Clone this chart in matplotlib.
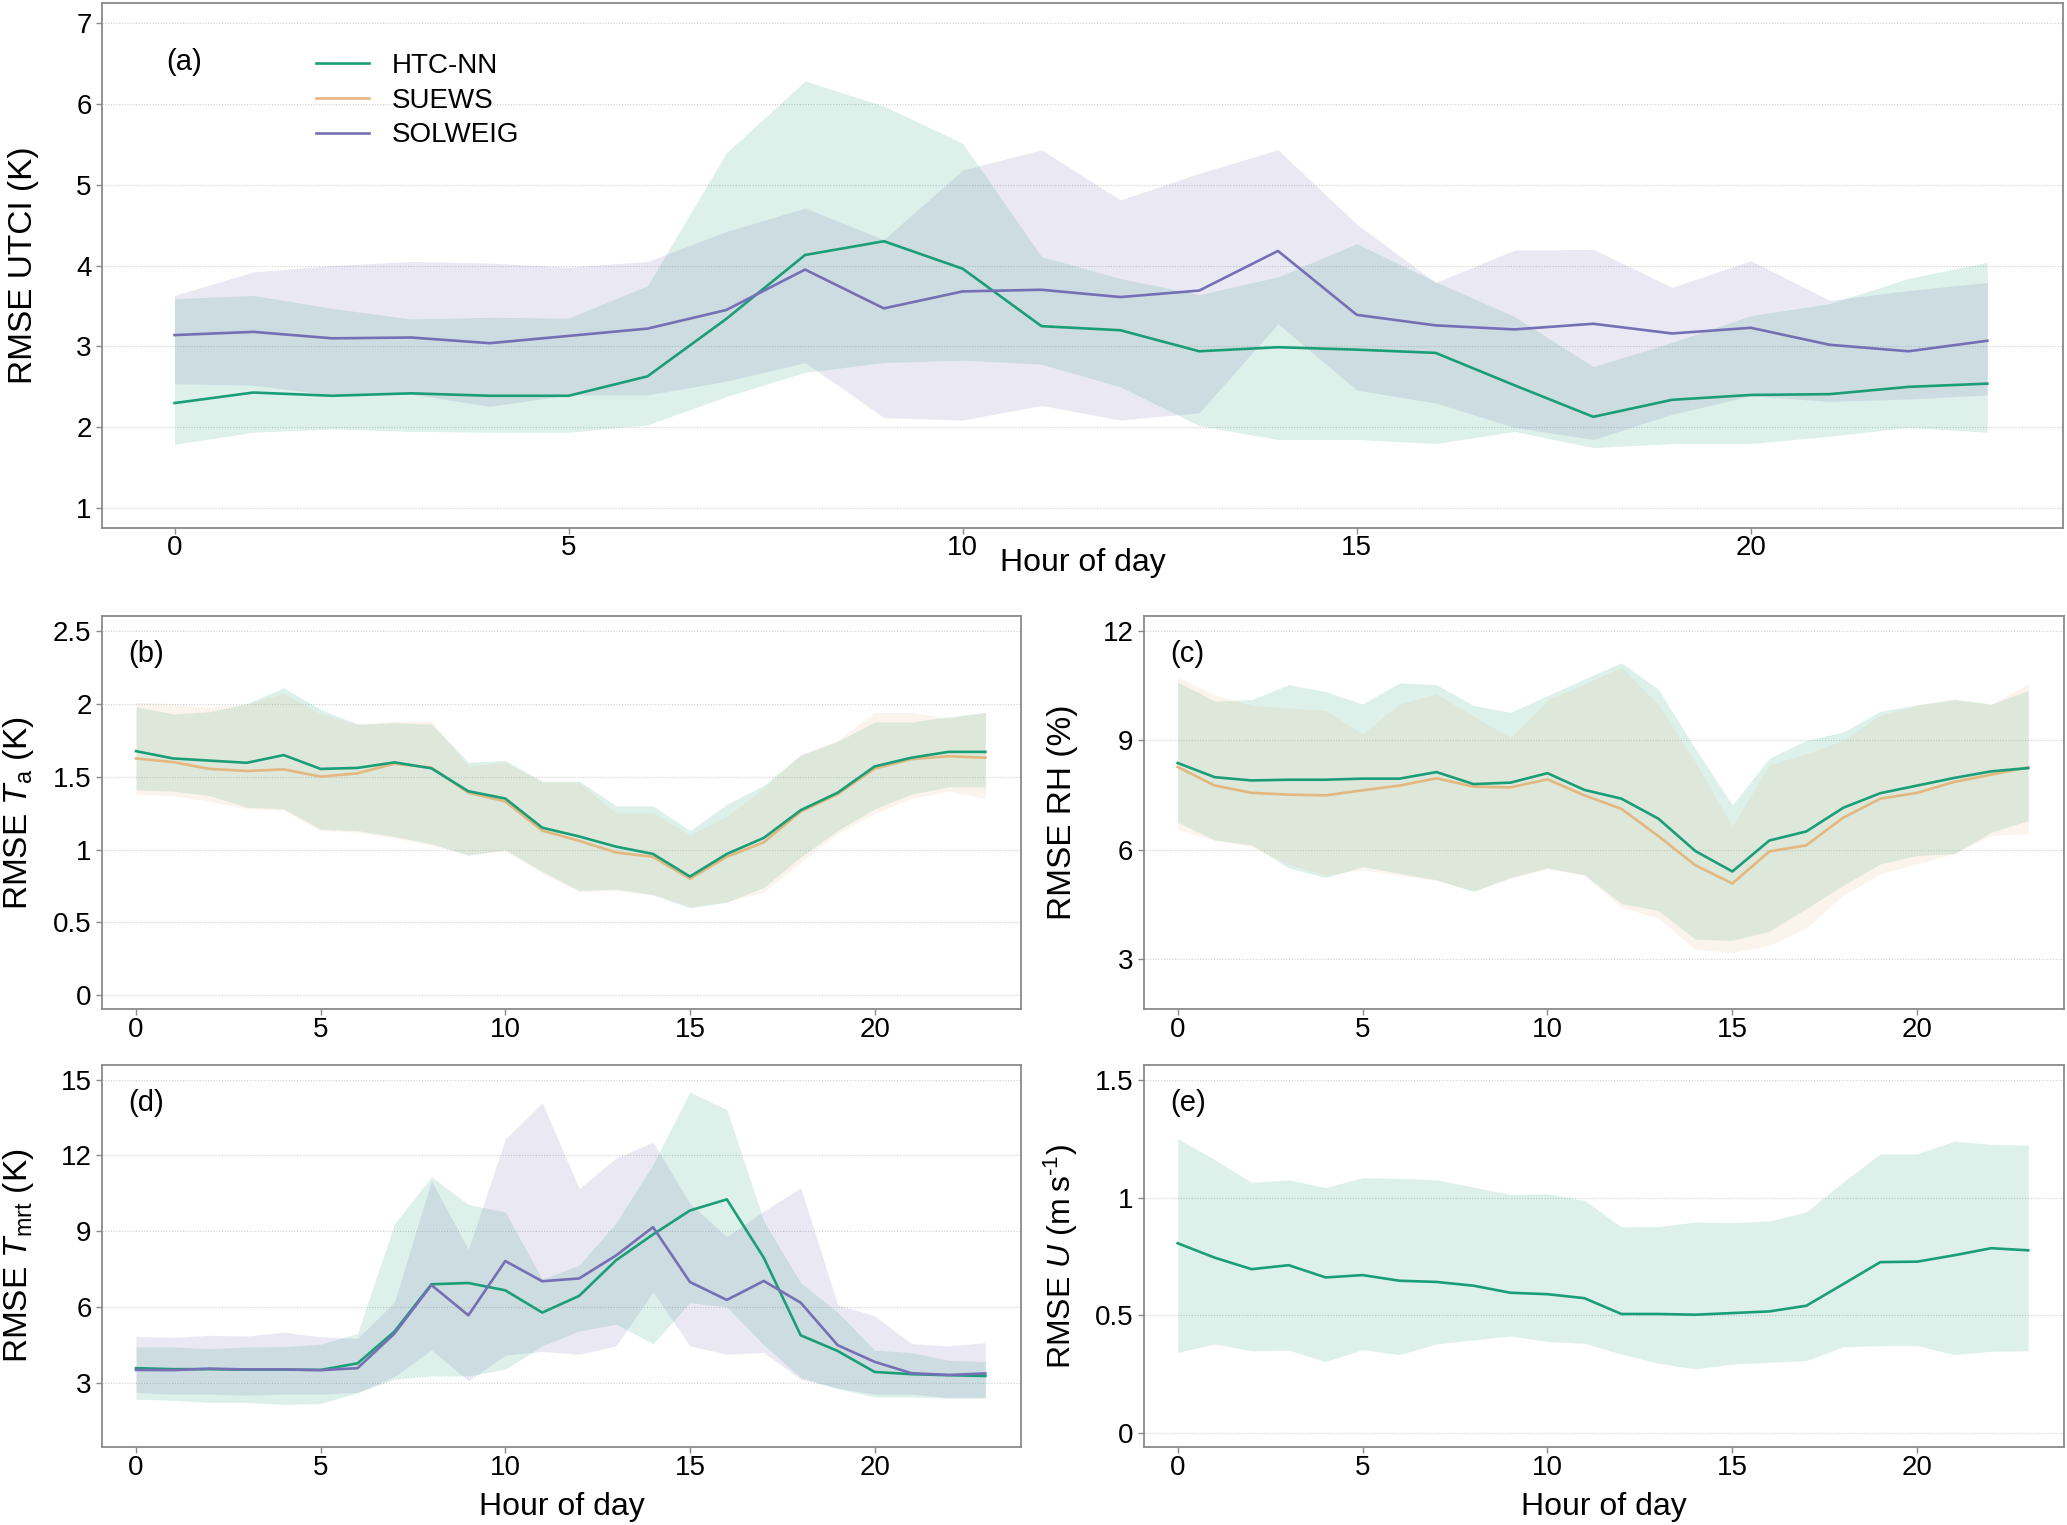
import matplotlib
matplotlib.use('Agg')
import matplotlib.pyplot as plt
from matplotlib.lines import Line2D
from matplotlib.ticker import FuncFormatter
from matplotlib import font_manager

# ---------------- data ----------------
hours = list(range(24))

utci_htc_mean = [2.30, 2.43, 2.39, 2.42, 2.39, 2.39, 2.63, 3.34, 4.13, 4.30, 3.96, 3.25, 3.20, 2.94, 2.99, 2.96, 2.92, 2.52, 2.13, 2.34, 2.40, 2.41, 2.50, 2.54]
utci_htc_hi = [3.59, 3.63, 3.47, 3.34, 3.36, 3.35, 3.75, 5.39, 6.28, 5.97, 5.51, 4.11, 3.84, 3.64, 3.86, 4.27, 3.80, 3.37, 2.75, 3.05, 3.38, 3.53, 3.84, 4.04]
utci_htc_lo = [1.79, 1.94, 1.98, 1.95, 1.94, 1.94, 2.03, 2.38, 2.68, 2.80, 2.83, 2.78, 2.50, 2.02, 1.85, 1.85, 1.80, 1.95, 1.75, 1.80, 1.80, 1.89, 2.00, 1.94]
utci_sol_mean = [3.14, 3.18, 3.10, 3.11, 3.04, 3.13, 3.22, 3.45, 3.95, 3.47, 3.68, 3.70, 3.61, 3.69, 4.18, 3.39, 3.26, 3.21, 3.28, 3.16, 3.23, 3.02, 2.94, 3.07]
utci_sol_hi = [3.63, 3.92, 4.00, 4.05, 4.03, 3.98, 4.05, 4.42, 4.71, 4.32, 5.18, 5.43, 4.81, 5.14, 5.43, 4.51, 3.79, 4.19, 4.20, 3.73, 4.06, 3.57, 3.69, 3.79]
utci_sol_lo = [2.54, 2.52, 2.40, 2.41, 2.26, 2.40, 2.40, 2.57, 2.80, 2.12, 2.09, 2.27, 2.09, 2.18, 3.28, 2.46, 2.30, 2.00, 1.85, 2.16, 2.39, 2.32, 2.35, 2.40]

ta_htc_mean = [1.675, 1.625, 1.61, 1.595, 1.648, 1.553, 1.56, 1.598, 1.557, 1.40, 1.35, 1.15, 1.09, 1.02, 0.97, 0.815, 0.97, 1.08, 1.27, 1.39, 1.57, 1.63, 1.67, 1.67]
ta_htc_hi = [1.98, 1.93, 1.945, 2.00, 2.11, 1.96, 1.86, 1.87, 1.86, 1.60, 1.61, 1.47, 1.47, 1.30, 1.30, 1.13, 1.31, 1.44, 1.65, 1.74, 1.875, 1.875, 1.91, 1.94]
ta_htc_lo = [1.41, 1.40, 1.37, 1.29, 1.28, 1.14, 1.13, 1.09, 1.04, 0.96, 1.00, 0.85, 0.72, 0.73, 0.69, 0.60, 0.64, 0.74, 0.95, 1.13, 1.28, 1.38, 1.43, 1.43]
ta_suews_mean = [1.625, 1.60, 1.553, 1.539, 1.55, 1.50, 1.523, 1.589, 1.562, 1.39, 1.33, 1.13, 1.06, 0.98, 0.95, 0.80, 0.95, 1.05, 1.26, 1.38, 1.555, 1.62, 1.64, 1.63]
ta_suews_hi = [2.01, 2.00, 1.975, 2.00, 2.07, 1.93, 1.86, 1.88, 1.88, 1.57, 1.60, 1.46, 1.46, 1.25, 1.25, 1.10, 1.23, 1.42, 1.65, 1.75, 1.94, 1.94, 1.90, 1.94]
ta_suews_lo = [1.38, 1.37, 1.33, 1.28, 1.27, 1.13, 1.12, 1.08, 1.03, 0.97, 0.99, 0.84, 0.71, 0.72, 0.69, 0.61, 0.64, 0.71, 0.91, 1.11, 1.25, 1.35, 1.40, 1.35]

rh_htc_mean = [8.38, 7.99, 7.90, 7.92, 7.92, 7.95, 7.95, 8.13, 7.80, 7.84, 8.10, 7.64, 7.40, 6.85, 5.96, 5.40, 6.25, 6.50, 7.15, 7.55, 7.76, 7.97, 8.15, 8.24]
rh_htc_hi = [10.60, 10.08, 10.12, 10.53, 10.34, 10.00, 10.58, 10.53, 9.96, 9.77, 10.23, 10.69, 11.13, 10.40, 8.77, 7.23, 8.51, 9.00, 9.23, 9.80, 9.98, 10.12, 10.00, 10.37]
rh_htc_lo = [6.75, 6.27, 6.13, 5.50, 5.23, 5.53, 5.35, 5.17, 4.85, 5.24, 5.50, 5.31, 4.52, 4.33, 3.54, 3.51, 3.76, 4.38, 5.02, 5.61, 5.84, 5.89, 6.48, 6.80]
rh_suews_mean = [8.27, 7.76, 7.56, 7.51, 7.49, 7.63, 7.76, 7.96, 7.73, 7.71, 7.93, 7.49, 7.12, 6.37, 5.57, 5.07, 5.95, 6.12, 6.88, 7.40, 7.56, 7.86, 8.06, 8.26]
rh_suews_hi = [10.74, 10.25, 9.96, 9.89, 9.82, 9.18, 10.00, 10.28, 9.66, 9.08, 10.10, 10.55, 11.01, 9.98, 8.40, 6.64, 8.33, 8.63, 9.00, 9.69, 9.96, 10.14, 9.98, 10.55]
rh_suews_lo = [6.55, 6.25, 6.08, 5.60, 5.30, 5.45, 5.30, 5.15, 4.88, 5.20, 5.48, 5.29, 4.42, 4.12, 3.26, 3.17, 3.37, 3.85, 4.74, 5.34, 5.61, 5.89, 6.39, 6.44]

tmrt_htc_mean = [3.58, 3.54, 3.54, 3.52, 3.52, 3.51, 3.77, 5.03, 6.90, 6.95, 6.66, 5.78, 6.44, 7.85, 8.87, 9.82, 10.26, 7.95, 4.88, 4.26, 3.43, 3.34, 3.30, 3.27]
tmrt_htc_hi = [4.42, 4.42, 4.35, 4.42, 4.43, 4.53, 4.95, 9.30, 11.15, 10.06, 9.76, 7.10, 7.66, 9.33, 11.64, 14.51, 13.81, 9.40, 6.96, 5.80, 4.29, 4.20, 3.89, 3.84]
tmrt_htc_lo = [2.35, 2.31, 2.22, 2.22, 2.15, 2.18, 2.61, 3.14, 3.27, 3.27, 3.54, 4.46, 5.05, 5.32, 4.55, 6.17, 6.00, 4.50, 3.21, 2.77, 2.44, 2.44, 2.39, 2.39]
tmrt_sol_mean = [3.51, 3.50, 3.56, 3.53, 3.53, 3.50, 3.58, 4.95, 6.87, 5.67, 7.82, 7.02, 7.13, 8.04, 9.16, 6.99, 6.28, 7.03, 6.17, 4.49, 3.83, 3.38, 3.31, 3.37]
tmrt_sol_hi = [4.83, 4.80, 4.88, 4.85, 5.00, 4.82, 4.76, 6.20, 11.00, 8.28, 12.65, 14.08, 10.69, 11.90, 12.52, 10.10, 8.78, 9.80, 10.72, 6.10, 5.65, 4.55, 4.46, 4.59]
tmrt_sol_lo = [2.62, 2.55, 2.55, 2.51, 2.55, 2.55, 2.62, 3.25, 4.30, 3.08, 4.09, 4.24, 4.13, 4.46, 6.59, 4.46, 4.13, 4.20, 3.14, 2.79, 2.55, 2.55, 2.42, 2.42]

u_htc_mean = [0.806, 0.745, 0.696, 0.713, 0.661, 0.671, 0.647, 0.642, 0.626, 0.596, 0.590, 0.573, 0.506, 0.506, 0.503, 0.510, 0.517, 0.541, 0.633, 0.726, 0.728, 0.755, 0.785, 0.776]
u_htc_hi = [1.249, 1.161, 1.064, 1.075, 1.042, 1.084, 1.081, 1.075, 1.044, 1.013, 1.016, 0.988, 0.875, 0.877, 0.896, 0.894, 0.900, 0.939, 1.067, 1.185, 1.185, 1.239, 1.225, 1.222]
u_htc_lo = [0.343, 0.379, 0.350, 0.353, 0.304, 0.355, 0.334, 0.379, 0.396, 0.413, 0.389, 0.382, 0.336, 0.297, 0.273, 0.294, 0.301, 0.308, 0.367, 0.372, 0.372, 0.334, 0.348, 0.350]

model_names = ['HTC-NN', 'SUEWS', 'SOLWEIG']
x_ticks = [0, 5, 10, 15, 20]

# ---------------- style ----------------
C_HTC = '#1b9e77'
C_SUEWS = '#e2b880'
C_SOL = '#7570b3'
FILL_ALPHA = 0.15

names = {f.name for f in font_manager.fontManager.ttflist}
NARROW = 'Liberation Sans Narrow' if 'Liberation Sans Narrow' in names else 'Liberation Sans'

plt.rcParams['font.family'] = ['Liberation Sans', 'DejaVu Sans']
plt.rcParams['mathtext.fontset'] = 'custom'
plt.rcParams['mathtext.rm'] = 'Liberation Sans'
plt.rcParams['mathtext.it'] = 'Liberation Sans:italic'
plt.rcParams['mathtext.bf'] = 'Liberation Sans:bold'

fig = plt.figure(figsize=(20.67, 15.25), dpi=100)

ax_a = fig.add_axes([0.04936, 0.6540, 0.9487, 0.3438])
ax_b = fig.add_axes([0.04936, 0.3383, 0.4445, 0.2576])
ax_c = fig.add_axes([0.5533, 0.3383, 0.4451, 0.2576])
ax_d = fig.add_axes([0.04936, 0.0510, 0.4445, 0.2505])
ax_e = fig.add_axes([0.5533, 0.0510, 0.4451, 0.2505])

LABEL_FS = 24
TICK_FS = 20
XLAB_FS = 23


def style(ax, ylim, yticks, ylabel, ylab_x, letter, ylab_fs=LABEL_FS):
    ax.set_xlim(-0.92, 23.96)
    ax.set_ylim(*ylim)
    ax.set_xticks(x_ticks)
    ax.set_yticks(yticks)
    ax.yaxis.set_major_formatter(FuncFormatter(lambda v, p: f'{v:g}'))
    ax.grid(axis='y', color='#d0d0d0', linestyle=(0, (1, 1.5)), linewidth=0.8)
    ax.grid(axis='x', visible=False)
    ax.set_axisbelow(True)
    for s in ax.spines.values():
        s.set_color('#8a8a8a')
        s.set_linewidth(1.3)
    ax.tick_params(axis='both', direction='out', length=4.5, width=1.0,
                   color='#8a8a8a', labelsize=TICK_FS, labelcolor='black',
                   labelfontfamily=NARROW)
    ax.tick_params(axis='x', pad=1)
    ax.tick_params(axis='y', pad=3)
    ax.set_ylabel(ylabel, fontsize=ylab_fs)
    ax.yaxis.label.set_va('center')
    ax.yaxis.set_label_coords(ylab_x, 0.5)
    ax.text(letter[1], letter[2], letter[0], transform=ax.transAxes,
            fontsize=21, ha='left', va='center', family=NARROW)


def band(ax, lo, hi, color):
    ax.fill_between(hours, lo, hi, color=color, alpha=FILL_ALPHA, linewidth=0)


# (a)
band(ax_a, utci_htc_lo, utci_htc_hi, C_HTC)
band(ax_a, utci_sol_lo, utci_sol_hi, C_SOL)
ax_a.plot(hours, utci_htc_mean, color=C_HTC, lw=1.9)
ax_a.plot(hours, utci_sol_mean, color=C_SOL, lw=1.9)
style(ax_a, (0.76, 7.24), [1, 2, 3, 4, 5, 6, 7], 'RMSE UTCI (K)', -0.0399, ('(a)', 0.033, 0.888))
ax_a.set_xlabel('Hour of day', fontsize=XLAB_FS)
ax_a.xaxis.label.set_va('center')
ax_a.xaxis.set_label_coords(0.5, -0.068)
handles = [Line2D([], [], color=C_HTC, lw=1.9),
           Line2D([], [], color=C_SUEWS, lw=1.9),
           Line2D([], [], color=C_SOL, lw=1.9)]
ax_a.legend(handles, model_names, loc='upper left', bbox_to_anchor=(0.109, 0.906),
            frameon=False, fontsize=20, handlelength=1.9, handletextpad=0.85,
            labelspacing=0.32, borderpad=0, borderaxespad=0)

# (b)
band(ax_b, ta_htc_lo, ta_htc_hi, C_HTC)
band(ax_b, ta_suews_lo, ta_suews_hi, C_SUEWS)
ax_b.plot(hours, ta_suews_mean, color=C_SUEWS, lw=1.9)
ax_b.plot(hours, ta_htc_mean, color=C_HTC, lw=1.9)
style(ax_b, (-0.094, 2.60), [0, 0.5, 1, 1.5, 2, 2.5], r'RMSE $T_{\mathrm{a}}$ (K)', -0.091, ('(b)', 0.028, 0.904))

# (c)
band(ax_c, rh_htc_lo, rh_htc_hi, C_HTC)
band(ax_c, rh_suews_lo, rh_suews_hi, C_SUEWS)
ax_c.plot(hours, rh_suews_mean, color=C_SUEWS, lw=1.9)
ax_c.plot(hours, rh_htc_mean, color=C_HTC, lw=1.9)
style(ax_c, (1.62, 12.41), [3, 6, 9, 12], 'RMSE RH (%)', -0.0883, ('(c)', 0.029, 0.904))

# (d)
band(ax_d, tmrt_htc_lo, tmrt_htc_hi, C_HTC)
band(ax_d, tmrt_sol_lo, tmrt_sol_hi, C_SOL)
ax_d.plot(hours, tmrt_htc_mean, color=C_HTC, lw=1.9)
ax_d.plot(hours, tmrt_sol_mean, color=C_SOL, lw=1.9)
style(ax_d, (0.45, 15.57), [3, 6, 9, 12, 15], r'RMSE $T_{\mathrm{mrt}}$ (K)', -0.091, ('(d)', 0.028, 0.902))
ax_d.set_xlabel('Hour of day', fontsize=XLAB_FS)
ax_d.xaxis.label.set_va('center')
ax_d.xaxis.set_label_coords(0.5, -0.156)

# (e)
band(ax_e, u_htc_lo, u_htc_hi, C_HTC)
ax_e.plot(hours, u_htc_mean, color=C_HTC, lw=1.9)
style(ax_e, (-0.059, 1.561), [0, 0.5, 1, 1.5], 'RMSE $U$ (m\u2009s$^{\\mathrm{\u2010 1}}$)'.replace('\u2010 ', '\u2010'),
      -0.09, ('(e)', 0.029, 0.902), ylab_fs=23)
ax_e.set_xlabel('Hour of day', fontsize=XLAB_FS)
ax_e.xaxis.label.set_va('center')
ax_e.xaxis.set_label_coords(0.5, -0.156)

fig.savefig('out.png', dpi=100, facecolor='white')
